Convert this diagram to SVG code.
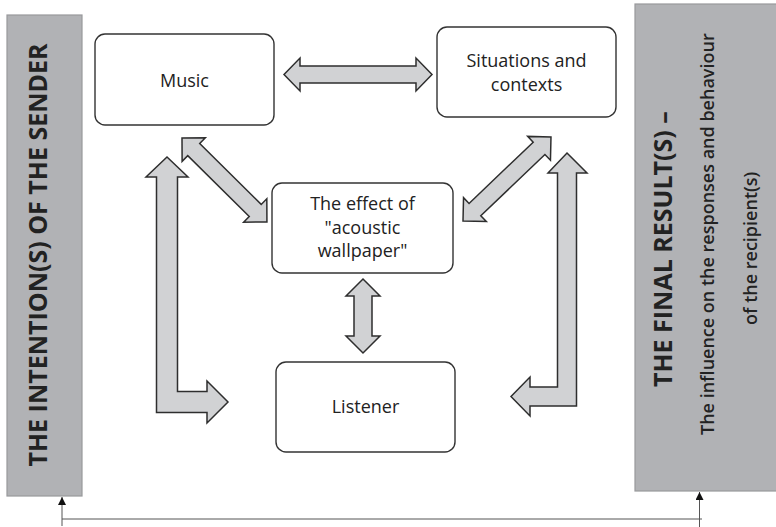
<svg xmlns="http://www.w3.org/2000/svg" width="776" height="527" viewBox="0 0 776 527">
<style>
.panel{fill:#b1b2b5;stroke:#98999c;stroke-width:1.2}
.box{fill:#fff;stroke:#333;stroke-width:1.4}
.arr{fill:#d1d2d4;stroke:#2e2e2e;stroke-width:1.5;stroke-linejoin:miter}
.t{font-family:"Open Sans","Noto Sans",sans-serif;font-size:18px;fill:#222;text-anchor:middle}
.big{font-family:"Open Sans","Noto Sans",sans-serif;font-size:25px;font-weight:700;fill:#222}
.sub{font-family:"Open Sans","Noto Sans",sans-serif;font-size:18px;font-weight:600;fill:#222}
.line{stroke:#555;stroke-width:1;fill:none}
</style>
<defs>
<marker id="tri" viewBox="0 0 10 10" refX="10" refY="5" markerWidth="8" markerHeight="8" markerUnits="userSpaceOnUse" orient="auto">
<path d="M0,0 L10,5 L0,10 z" fill="#111"/>
</marker>
</defs>
<rect width="776" height="527" fill="#fff"/>
<g id="sender">
<rect class="panel" x="7" y="15" width="75" height="481"/>
<text class="big" transform="translate(47,255) rotate(-90)" text-anchor="middle">THE INTENTION(S) OF THE SENDER</text>
</g>
<g id="result">
<rect class="panel" x="635" y="4" width="145" height="487"/>
<text class="big" transform="translate(672,387) rotate(-90)">THE FINAL RESULT(S) –</text>
<text class="sub" transform="translate(714,435) rotate(-90)">The influence on the responses and behaviour</text>
<text class="sub" transform="translate(757,325) rotate(-90)">of the recipient(s)</text>
</g>
<g id="music">
<rect class="box" x="95" y="34" width="179" height="91" rx="10"/>
<text class="t" x="184.5" y="87">Music</text>
</g>
<g id="situations">
<rect class="box" x="437" y="27" width="179" height="90" rx="10"/>
<text class="t" x="526.5" y="67">Situations and</text>
<text class="t" x="526.5" y="91">contexts</text>
</g>
<g id="effect">
<rect class="box" x="272" y="183" width="181" height="90" rx="10"/>
<text class="t" x="362.5" y="210">The effect of</text>
<text class="t" x="362.5" y="234">"acoustic</text>
<text class="t" x="362.5" y="257">wallpaper"</text>
</g>
<g id="listener">
<rect class="box" x="276" y="362" width="179" height="90" rx="10"/>
<text class="t" x="365.5" y="413">Listener</text>
</g>
<g id="connectors">
<polygon class="arr" points="284,74.5 300,58 300,66 416,66 416,58 432,74.5 416,91 416,83 300,83 300,91"/>
<polygon class="arr" points="363,279 380,296 372,296 372,336 380,336 363,353 346,336 354,336 354,296 346,296"/>
<polygon class="arr" transform="translate(182,138) rotate(44.7)" points="0,0 16.5,-16.5 16.5,-8.5 103,-8.5 103,-16.5 119.5,0 103,16.5 103,8.5 16.5,8.5 16.5,16.5"/>
<polygon class="arr" transform="translate(463,221) rotate(-43.7)" points="0,0 16.5,-16.5 16.5,-8.5 105.2,-8.5 105.2,-16.5 121.7,0 105.2,16.5 105.2,8.5 16.5,8.5 16.5,16.5"/>
<polygon class="arr" points="167,157 188,177 177.5,177 177.5,391.5 207,391.5 207,381 228,402 207,423 207,412.5 156.5,412.5 156.5,177 146,177"/>
<polygon class="arr" points="567,153 587,173 576.5,173 576.5,406 530,406 530,416 511,396.5 530,377 530,387 557.5,387 557.5,173 548,173"/>
<polyline class="line" points="62,526 62,519 702,519"/>
<line class="line" x1="62" y1="519" x2="62" y2="497" marker-end="url(#tri)"/>
<line class="line" x1="699.5" y1="527" x2="699.5" y2="492" marker-end="url(#tri)"/>
</g>
</svg>
